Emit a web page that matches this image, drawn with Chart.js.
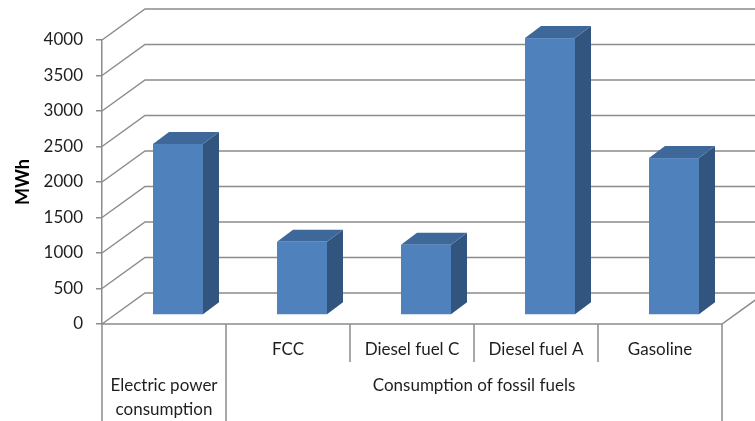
<!DOCTYPE html>
<html>
<head>
<meta charset="utf-8">
<script src="https://cdn.jsdelivr.net/npm/chart.js@4/dist/chart.umd.min.js"></script>
<style>
html, body { margin: 0; padding: 0; background: #fff; }
canvas { display: block; }
</style>
</head>
<body>
<canvas id="chart" width="755" height="421"></canvas>
<script>
// Data
const categories = ['', 'FCC', 'Diesel fuel C', 'Diesel fuel A', 'Gasoline'];
const values = [2410, 1030, 990, 3900, 2210];
const groupNames = [['Electric power', 'consumption'], ['Consumption of fossil fuels']];
const groupSpans = [1, 4];
const yTicks = [0, 500, 1000, 1500, 2000, 2500, 3000, 3500, 4000];
const yTitle = 'MWh';

// Look
const FONT = 'Lato, "Open Sans", sans-serif';
const lineColor = '#8c8c8c';
const textColor = '#1e1e1e';
const frontColor = '#4f81bd';
const sideColor = '#32557f';
const topColor = '#3e679a';

// 3D offsets: whole floor depth, bar front plane, bar depth
const DEPTH_X = 43, DEPTH_Y = -31;
const BAR_DX = 14, BAR_DY = -9;
const SIDE_DX = 16, SIDE_DY = -12;

function polygon(ctx, pts, color) {
	ctx.fillStyle = color;
	ctx.beginPath();
	ctx.moveTo(pts[0][0], pts[0][1]);
	for(let i = 1; i < pts.length; i++) {
		ctx.lineTo(pts[i][0], pts[i][1]);
	}
	ctx.closePath();
	ctx.fill();
}

// Back wall gridlines, side wall diagonals and the floor edges
function drawWalls(chart) {
	const ctx = chart.ctx;
	const area = chart.chartArea;
	const yScale = chart.scales.y;
	ctx.save();
	ctx.strokeStyle = lineColor;
	ctx.lineWidth = 1.5;
	ctx.beginPath();
	for(let v of yTicks) {
		const y = yScale.getPixelForValue(v);
		ctx.moveTo(area.left, y);
		ctx.lineTo(area.left + DEPTH_X, y + DEPTH_Y);
		ctx.lineTo(area.right + DEPTH_X + 20, y + DEPTH_Y);
	}
	const y0 = yScale.getPixelForValue(0);
	ctx.moveTo(area.left, y0);
	ctx.lineTo(area.right, y0);
	ctx.lineTo(area.right + DEPTH_X, y0 + DEPTH_Y);
	ctx.stroke();
	ctx.restore();
}

// Bars as prisms: front face, right side, top
function drawBars(chart) {
	const ctx = chart.ctx;
	const meta = chart.getDatasetMeta(0);
	ctx.save();
	meta.data.forEach((bar) => {
		const half = bar.width / 2;
		const x1 = bar.x - half + BAR_DX;
		const x2 = bar.x + half + BAR_DX;
		const top = bar.y + BAR_DY;
		const base = bar.base + BAR_DY;
		polygon(ctx, [[x2, top], [x2 + SIDE_DX, top + SIDE_DY], [x2 + SIDE_DX, base + SIDE_DY], [x2, base]], sideColor);
		polygon(ctx, [[x1, top], [x1 + SIDE_DX, top + SIDE_DY], [x2 + SIDE_DX, top + SIDE_DY], [x2, top]], topColor);
		ctx.fillStyle = frontColor;
		ctx.fillRect(x1, top, x2 - x1, base - top);
	});
	ctx.restore();
}

// Two-level category axis drawn as a table under the floor
function drawCategoryTable(chart) {
	const ctx = chart.ctx;
	const area = chart.chartArea;
	const xScale = chart.scales.x;
	const y0 = chart.scales.y.getPixelForValue(0);
	const n = categories.length;

	const edges = [area.left];
	for(let i = 1; i < n; i++) {
		edges.push((xScale.getPixelForValue(i - 1) + xScale.getPixelForValue(i)) / 2);
	}
	edges.push(area.right);

	const groupEdges = [0];
	groupSpans.forEach((s) => groupEdges.push(groupEdges[groupEdges.length - 1] + s));

	ctx.save();
	ctx.strokeStyle = lineColor;
	ctx.lineWidth = 1.5;
	ctx.beginPath();
	edges.forEach((x, i) => {
		const full = groupEdges.includes(i);
		ctx.moveTo(x, y0);
		ctx.lineTo(x, full ? chart.height : y0 + 38);
	});
	ctx.stroke();

	ctx.fillStyle = textColor;
	ctx.font = '17px ' + FONT;
	ctx.textAlign = 'center';
	ctx.textBaseline = 'middle';
	categories.forEach((c, i) => {
		if(c) {
			ctx.fillText(c, xScale.getPixelForValue(i), y0 + 26);
		}
	});

	groupNames.forEach((lines, g) => {
		const cx = (edges[groupEdges[g]] + edges[groupEdges[g + 1]]) / 2;
		lines.forEach((line, k) => {
			ctx.fillText(line, cx, y0 + 62 + k * 24);
		});
	});
	ctx.restore();
}

const threeD = {
	id: 'threeD',
	beforeDatasetsDraw: drawWalls,
	afterDatasetsDraw: drawBars,
	afterDraw: drawCategoryTable
};

// Initialize
const chart = new Chart(document.getElementById('chart'), {
	type: 'bar',
	data: {
		labels: categories,
		datasets: [{
			data: values,
			backgroundColor: 'rgba(0,0,0,0)',
			categoryPercentage: 1,
			barPercentage: 50 / 124
		}]
	},
	options: {
		responsive: false,
		animation: false,
		devicePixelRatio: 1,
		layout: { padding: { left: 8, right: 33, top: 40, bottom: 97 } },
		plugins: {
			legend: { display: false },
			tooltip: { enabled: false }
		},
		scales: {
			x: { display: false },
			y: {
				min: 0,
				max: 4000,
				afterFit: (scale) => { scale.width = 94; },
				afterBuildTicks: (scale) => { scale.ticks = yTicks.map(v => ({ value: v })); },
				border: { color: lineColor, width: 1.5 },
				grid: { drawOnChartArea: false, tickLength: 6, color: lineColor, lineWidth: 1.5 },
				ticks: {
					padding: 13,
					color: textColor,
					font: { family: FONT, size: 17 },
					callback: (v) => String(v)
				},
				title: {
					display: true,
					text: yTitle,
					color: '#000',
					font: { family: FONT, size: 18, weight: 'bold' }
				}
			}
		}
	},
	plugins: [threeD]
});
</script>
</body>
</html>
